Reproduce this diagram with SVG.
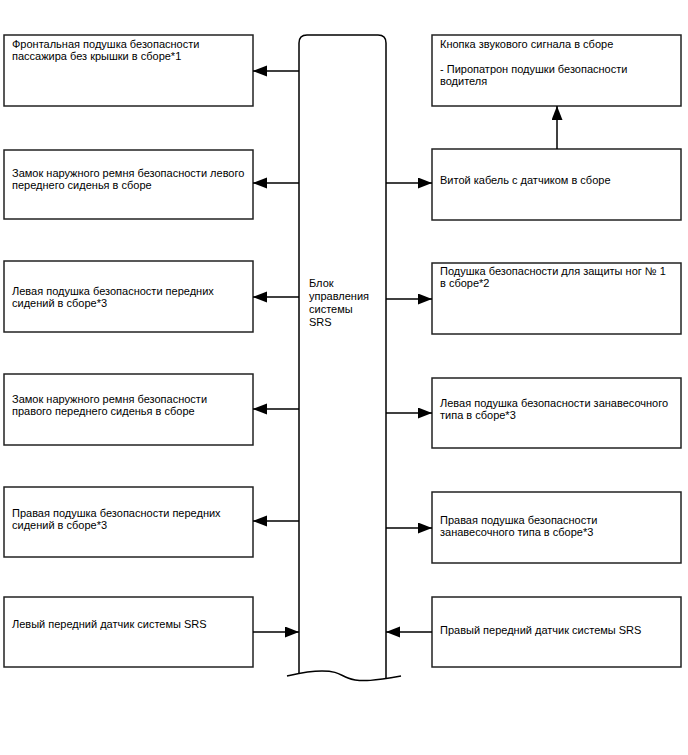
<svg xmlns="http://www.w3.org/2000/svg" width="688" height="755" viewBox="0 0 688 755">
<style>
.box{fill:#fff;stroke:#222;stroke-width:1.5}
.t{font-family:"Liberation Sans",Arial,sans-serif;font-size:11px;fill:#000}
.c{fill:none;stroke:#000;stroke-width:1.5}
</style>
<defs>
<marker id="ah" markerUnits="userSpaceOnUse" markerWidth="16" markerHeight="12" refX="14" refY="5.5" orient="auto">
<path d="M0,0 L14,5.5 L0,11 Z" fill="#000"/>
</marker>
</defs>
<rect width="688" height="755" fill="#fff"/>
<g id="srs">
<path class="c" d="M299,673 V43 Q299,35 307,35 H378 Q386,35 386,43 V679"/>
<path class="c" d="M287,676 C296,674 308,671 322,671 C338,671 340,675 348,678 C360,683 378,680 401,676"/>
<text class="t" x="309" y="287">Блок</text>
<text class="t" x="309" y="300">управления</text>
<text class="t" x="309" y="313">системы</text>
<text class="t" x="309" y="326">SRS</text>
</g>
<g id="L1"><rect class="box" x="4" y="35" width="249" height="71"/>
<text class="t" x="12" y="48">Фронтальная подушка безопасности</text>
<text class="t" x="12" y="60">пассажира без крышки в сборе*1</text></g>
<g id="L2"><rect class="box" x="4" y="150" width="249" height="69"/>
<text class="t" x="12" y="177">Замок наружного ремня безопасности левого</text>
<text class="t" x="12" y="189">переднего сиденья в сборе</text></g>
<g id="L3"><rect class="box" x="4" y="261" width="249" height="71"/>
<text class="t" x="12" y="295">Левая подушка безопасности передних</text>
<text class="t" x="12" y="307">сидений в сборе*3</text></g>
<g id="L4"><rect class="box" x="4" y="374" width="249" height="71"/>
<text class="t" x="12" y="403">Замок наружного ремня безопасности</text>
<text class="t" x="12" y="415">правого переднего сиденья в сборе</text></g>
<g id="L5"><rect class="box" x="4" y="487" width="249" height="70"/>
<text class="t" x="12" y="517">Правая подушка безопасности передних</text>
<text class="t" x="12" y="529">сидений в сборе*3</text></g>
<g id="L6"><rect class="box" x="4" y="597" width="249" height="70"/>
<text class="t" x="12" y="628">Левый передний датчик системы SRS</text></g>
<g id="R1"><rect class="box" x="432" y="35" width="249" height="71"/>
<text class="t" x="440" y="48">Кнопка звукового сигнала в сборе</text>
<text class="t" x="440" y="73">- Пиропатрон подушки безопасности</text>
<text class="t" x="440" y="85">водителя</text></g>
<g id="R2"><rect class="box" x="432" y="149" width="249" height="71"/>
<text class="t" x="440" y="184">Витой кабель с датчиком в сборе</text></g>
<g id="R3"><rect class="box" x="432" y="263" width="249" height="71"/>
<text class="t" x="440" y="275">Подушка безопасности для защиты ног № 1</text>
<text class="t" x="440" y="287">в сборе*2</text></g>
<g id="R4"><rect class="box" x="432" y="378" width="249" height="70"/>
<text class="t" x="440" y="407">Левая подушка безопасности занавесочного</text>
<text class="t" x="440" y="419">типа в сборе*3</text></g>
<g id="R5"><rect class="box" x="432" y="492" width="249" height="71"/>
<text class="t" x="440" y="524">Правая подушка безопасности</text>
<text class="t" x="440" y="536">занавесочного типа в сборе*3</text></g>
<g id="R6"><rect class="box" x="432" y="597" width="249" height="70"/>
<text class="t" x="440" y="634">Правый передний датчик системы SRS</text></g>
<g id="connectors" class="c" marker-end="url(#ah)">
<line x1="299" y1="71" x2="253" y2="71"/>
<line x1="299" y1="183" x2="253" y2="183"/>
<line x1="299" y1="297" x2="253" y2="297"/>
<line x1="299" y1="409" x2="253" y2="409"/>
<line x1="299" y1="521" x2="253" y2="521"/>
<line x1="253" y1="632" x2="299" y2="632"/>
<line x1="386" y1="183" x2="432" y2="183"/>
<line x1="386" y1="299" x2="432" y2="299"/>
<line x1="386" y1="413" x2="432" y2="413"/>
<line x1="386" y1="528" x2="432" y2="528"/>
<line x1="432" y1="632" x2="386" y2="632"/>
<line x1="557" y1="149" x2="557" y2="106"/>
</g>
</svg>
